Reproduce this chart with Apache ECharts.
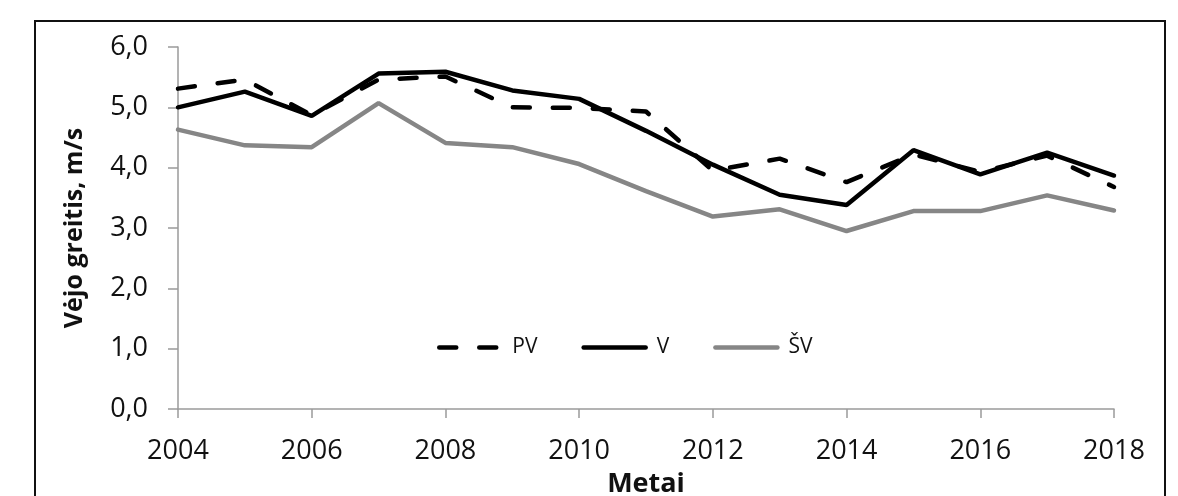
<!DOCTYPE html>
<html>
<head>
<meta charset="utf-8">
<script src="https://cdn.jsdelivr.net/npm/echarts@6/dist/echarts.min.js"></script>
<style>
  html, body { margin: 0; padding: 0; background: #fff; }
  #chart { width: 1178px; height: 496px; }
</style>
</head>
<body>
<div id="chart"></div>
<script>
// metai (kategorijos)
const years = ['2004', '2005', '2006', '2007', '2008', '2009', '2010', '2011',
  '2012', '2013', '2014', '2015', '2016', '2017', '2018'];

// vėjo greitis, m/s
const pv = [5.31, 5.46, 4.87, 5.46, 5.51, 5.00, 4.99, 4.93, 3.95, 4.15, 3.76, 4.22, 3.93, 4.20, 3.68];
const v = [5.00, 5.26, 4.86, 5.56, 5.59, 5.28, 5.14, 4.61, 4.05, 3.55, 3.38, 4.29, 3.89, 4.25, 3.87];
const sv = [4.63, 4.37, 4.34, 5.07, 4.41, 4.34, 4.06, 3.61, 3.19, 3.31, 2.95, 3.28, 3.28, 3.54, 3.29];

const font = '"Open Sans", "DejaVu Sans", sans-serif';
const axisGray = '#9a9a9a';

const chart = echarts.init(document.getElementById('chart'), null, { renderer: 'canvas' });

chart.setOption({
  backgroundColor: '#fff',
  animation: false,
  textStyle: { fontFamily: font, color: '#111' },
  graphic: [
    {
      type: 'rect',
      shape: { x: 35, y: 21, width: 1130, height: 500 },
      style: { fill: 'none', stroke: '#111', lineWidth: 2 },
      silent: true
    }
  ],
  grid: { left: 178, right: 64, top: 47, bottom: 87, outerBoundsMode: 'none', containLabel: false },
  legend: {
    left: 432,
    top: 332,
    itemWidth: 62,
    itemHeight: 5,
    itemGap: 44,
    itemStyle: { opacity: 0 },
    lineStyle: { width: 'inherit', type: 'inherit', cap: 'round', opacity: 1 },
    textStyle: { fontFamily: font, fontSize: 21, color: '#111', padding: [0, 0, 0, 6] },
    data: ['PV', 'V', 'ŠV']
  },
  xAxis: {
    type: 'category',
    data: years,
    boundaryGap: false,
    name: 'Metai',
    nameLocation: 'middle',
    nameGap: 62,
    nameMoveOverlap: false,
    nameTextStyle: { fontFamily: font, fontSize: 27, fontWeight: 'bold', color: '#111' },
    axisLine: { lineStyle: { color: axisGray, width: 1.5 } },
    axisTick: { interval: 1, length: 9, lineStyle: { color: axisGray, width: 1.5 } },
    axisLabel: { interval: 1, margin: 29, fontSize: 27, color: '#111', fontFamily: font },
    splitLine: { show: false }
  },
  yAxis: {
    type: 'value',
    min: 0,
    max: 6,
    interval: 1,
    name: 'Vėjo greitis, m/s',
    nameLocation: 'middle',
    nameGap: 91,
    nameMoveOverlap: false,
    nameRotate: 90,
    nameTextStyle: { fontFamily: font, fontSize: 25, fontWeight: 'bold', color: '#111' },
    axisLine: { show: true, lineStyle: { color: axisGray, width: 1.5 } },
    axisTick: { show: true, length: 10, inside: false, lineStyle: { color: axisGray, width: 1.5 } },
    axisLabel: {
      margin: 30,
      fontSize: 27,
      color: '#111',
      fontFamily: font,
      formatter: (val) => val.toFixed(1).replace('.', ',')
    },
    splitLine: { show: false }
  },
  series: [
    {
      name: 'PV',
      type: 'line',
      data: pv,
      symbol: 'none',
      z: 3,
      lineStyle: { color: '#000', width: 4.5, type: [17, 23], cap: 'round' },
      itemStyle: { color: '#000' }
    },
    {
      name: 'V',
      type: 'line',
      data: v,
      symbol: 'none',
      z: 2,
      lineStyle: { color: '#000', width: 4.5, cap: 'round' },
      itemStyle: { color: '#000' }
    },
    {
      name: 'ŠV',
      type: 'line',
      data: sv,
      symbol: 'none',
      z: 1,
      lineStyle: { color: '#868686', width: 4.5, cap: 'round' },
      itemStyle: { color: '#868686' }
    }
  ]
});
</script>
</body>
</html>
